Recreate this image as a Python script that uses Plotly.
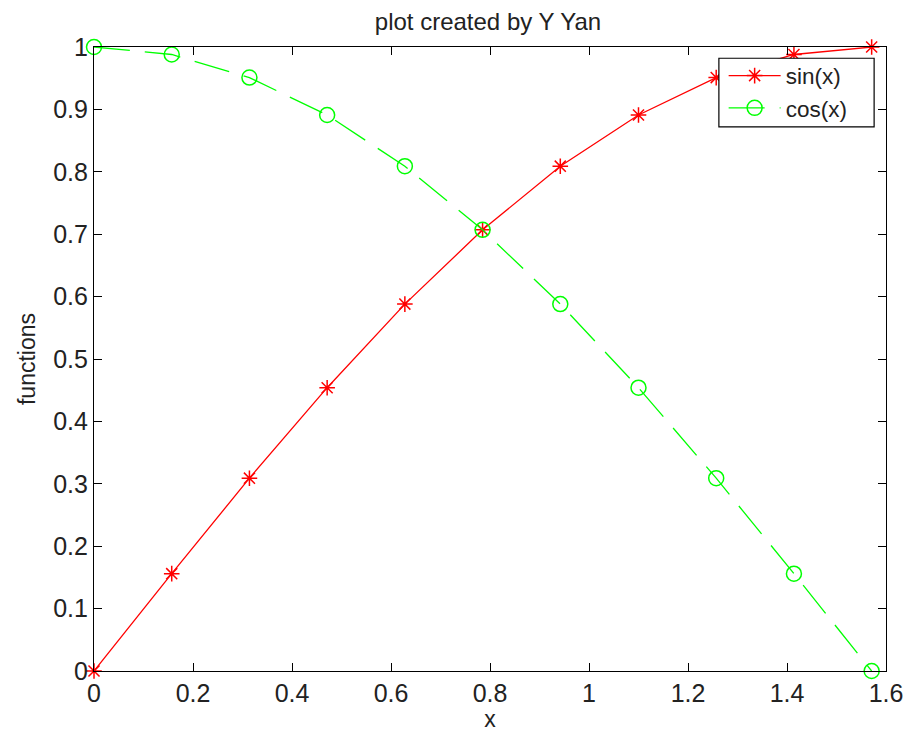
import plotly.graph_objects as go

x_vals = [0.0, 0.157, 0.314, 0.471, 0.628, 0.785, 0.942, 1.100, 1.257, 1.414, 1.571]
sin_vals = [0.0, 0.156, 0.309, 0.454, 0.588, 0.707, 0.809, 0.891, 0.951, 0.988, 1.0]
cos_vals = [1.0, 0.988, 0.951, 0.891, 0.809, 0.707, 0.588, 0.454, 0.309, 0.156, 0.0]

x_ticks = [0, 0.2, 0.4, 0.6, 0.8, 1.0, 1.2, 1.4, 1.6]
x_tick_labels = ["0", "0.2", "0.4", "0.6", "0.8", "1", "1.2", "1.4", "1.6"]
y_ticks = [0, 0.1, 0.2, 0.3, 0.4, 0.5, 0.6, 0.7, 0.8, 0.9, 1.0]
y_tick_labels = ["0", "0.1", "0.2", "0.3", "0.4", "0.5", "0.6", "0.7", "0.8", "0.9", "1"]

FONT = "Liberation Sans, Arial, sans-serif"
TICKFONT = "Liberation Sans Narrow, Arial Narrow, Liberation Sans, sans-serif"
TXT = "#222222"

fig = go.Figure()
fig.add_trace(go.Scatter(
    x=x_vals, y=sin_vals, name="sin(x)", mode="lines+markers",
    line=dict(color="#FF0000", width=1.3),
    marker=dict(symbol="asterisk-open", size=13, color="#FF0000",
                line=dict(color="#FF0000", width=1.5)),
    cliponaxis=False,
))
fig.add_trace(go.Scatter(
    x=x_vals, y=cos_vals, name="cos(x)", mode="lines+markers",
    line=dict(color="#00FF00", width=1.3, dash="36px,15px"),
    marker=dict(symbol="circle-open", size=15, color="#00FF00",
                line=dict(color="#00FF00", width=1.5)),
    cliponaxis=False,
))

axis_common = dict(
    showline=True, linecolor="black", linewidth=1.2, mirror="ticks",
    ticks="inside", ticklen=8, tickwidth=1.2, tickcolor="black",
    showgrid=False, zeroline=False, automargin=False,
    tickfont=dict(family=TICKFONT, size=25, color=TXT),
)

W, H = 913, 732
fig.update_layout(
    width=W, height=H,
    margin=dict(l=94, r=27, t=47, b=61),
    paper_bgcolor="white", plot_bgcolor="white",
    title=dict(text="plot created by Y Yan", x=488 / W, xanchor="center",
               y=1 - 22 / H, yanchor="middle", yref="container",
               font=dict(family=FONT, size=24, color=TXT)),
    xaxis=dict(range=[0, 1.6], tickvals=x_ticks, ticktext=x_tick_labels,
               title=dict(text="x", standoff=6,
                          font=dict(family=FONT, size=23, color=TXT)),
               **axis_common),
    yaxis=dict(range=[0, 1], tickvals=y_ticks, ticktext=y_tick_labels,
               title=dict(text="functions", standoff=11,
                          font=dict(family=FONT, size=23, color=TXT)),
               **axis_common),
    legend=dict(x=0.795, y=0.988, xanchor="left", yanchor="top",
                bgcolor="rgba(0,0,0,0)", borderwidth=0,
                font=dict(family=FONT, size=22.5, color=TXT),
                tracegroupgap=0, itemwidth=52),
    showlegend=True,
    shapes=[dict(type="rect", xref="paper", yref="paper",
                 x0=0.789, x1=0.985, y0=0.872, y1=0.982,
                 fillcolor="white", line=dict(color="black", width=1.2),
                 layer="above")],
)

fig.write_html("out.html", config={"displayModeBar": False},
               post_script="document.body.style.margin='0';")
